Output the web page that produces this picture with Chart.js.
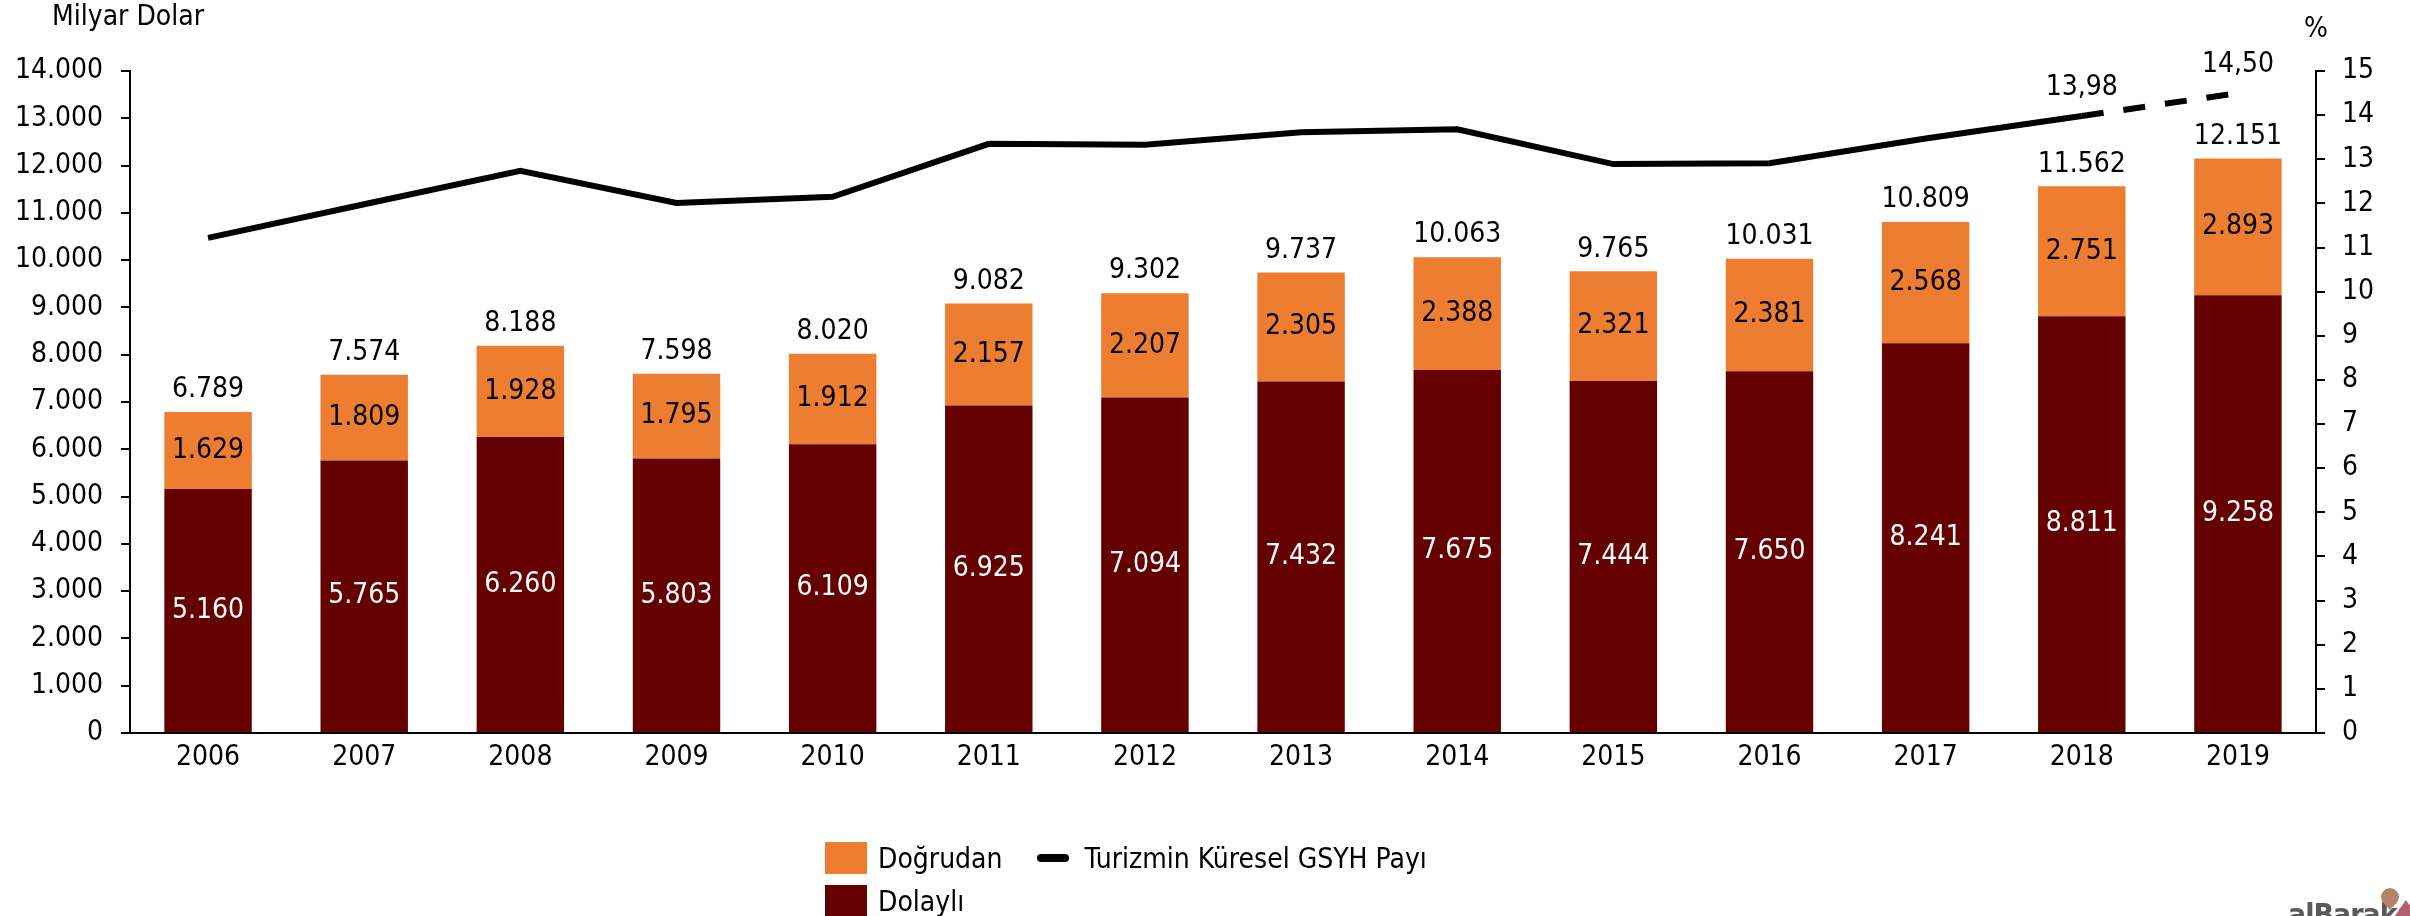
<!DOCTYPE html>
<html>
<head>
<meta charset="utf-8">
<script src="https://cdn.jsdelivr.net/npm/chart.js@4.4.1/dist/chart.umd.min.js"></script>
<style>
  body { margin: 0; background: #fff; }
  #wrap { position: relative; width: 2410px; height: 916px; overflow: hidden; }
  #legend {
    position: absolute; left: 825px; top: 842px;
    display: grid; grid-template-columns: auto auto; column-gap: 34px; row-gap: 11px;
    font-family: "DejaVu Sans Condensed", "DejaVu Sans", sans-serif; font-size: 28px; color: #000;
  }
  .item { display: flex; align-items: center; height: 32px; }
  .box { width: 42px; height: 32px; margin-right: 11px; }
  .ln { width: 32px; height: 8px; border-radius: 4px; background: #000; margin-right: 16px; }
  #logo { position: absolute; left: 2288px; top: 900px; line-height: 30px; font-family: "DejaVu Sans Condensed", "DejaVu Sans", sans-serif;
    font-size: 30px; font-weight: bold; color: #5a5a5a; letter-spacing: -1px; }
  #drop { position: absolute; left: 2381px; top: 888px; width: 18px; height: 18px; border-radius: 50% 50% 50% 0;
    transform: rotate(-45deg); background: #b5836a; }
  #tri { position: absolute; left: 2392px; top: 900px; width: 0; height: 0;
    border-left: 14px solid transparent; border-right: 14px solid transparent; border-bottom: 20px solid #b0606e; }
</style>
</head>
<body>
<div id="wrap">
  <canvas id="chart" width="2410" height="916"></canvas>
  <div id="legend"></div>
  <div id="logo">alBaraka</div>
  <div id="drop"></div>
  <div id="tri"></div>
</div>
<script>
const years = ['2006', '2007', '2008', '2009', '2010', '2011', '2012', '2013', '2014', '2015', '2016', '2017', '2018', '2019'];
const dolayli = [5160, 5765, 6260, 5803, 6109, 6925, 7094, 7432, 7675, 7444, 7650, 8241, 8811, 9258];
const dogrudan = [1629, 1809, 1928, 1795, 1912, 2157, 2207, 2305, 2388, 2321, 2381, 2568, 2751, 2893];
const toplam = [6789, 7574, 8188, 7598, 8020, 9082, 9302, 9737, 10063, 9765, 10031, 10809, 11562, 12151];
const gsyhPayi = [11.22, 11.98, 12.74, 12.01, 12.15, 13.35, 13.33, 13.61, 13.68, 12.89, 12.91, 13.47, 13.98, 14.50];
const labelledPoints = [12, 13]; // only the last two shares carry a label

const FONT = '"DejaVu Sans Condensed", "DejaVu Sans", sans-serif';
const ORANGE = '#ED7D31';
const MAROON = '#640000';

function fmtThousands(v) {
    return String(Math.round(v)).replace(/\B(?=(\d{3})+(?!\d))/g, '.');
}

// draws the value labels and the two axis titles
const labelPlugin = {
    id: 'labels',
    afterDatasetsDraw(chart) {
        const ctx = chart.ctx;
        ctx.save();
        ctx.font = '28px ' + FONT;
        ctx.textAlign = 'center';
        ctx.textBaseline = 'middle';

        const metaDol = chart.getDatasetMeta(1);
        const metaDog = chart.getDatasetMeta(2);
        metaDol.data.forEach((bar, i) => {
            const top = metaDog.data[i];
            ctx.fillStyle = '#fff';
            ctx.fillText(fmtThousands(dolayli[i]), bar.x, (bar.y + bar.base) / 2);
            ctx.fillStyle = '#000';
            ctx.fillText(fmtThousands(dogrudan[i]), top.x, (top.y + top.base) / 2);
            ctx.fillText(fmtThousands(toplam[i]), top.x, top.y - 22);
        });

        const metaLine = chart.getDatasetMeta(0);
        labelledPoints.forEach(i => {
            const p = metaLine.data[i];
            ctx.fillText(gsyhPayi[i].toFixed(2).replace('.', ','), p.x, p.y - 28);
        });

        ctx.textAlign = 'left';
        ctx.fillText('Milyar Dolar', 52, 18);
        ctx.textAlign = 'center';
        ctx.fillText('%', chart.chartArea.right, 30);
        ctx.restore();
    }
};

const ctx = document.getElementById('chart').getContext('2d');
const chart = new Chart(ctx, {
    type: 'bar',
    data: {
        labels: years,
        datasets: [{
            type: 'line',
            label: 'Turizmin Küresel GSYH Payı',
            data: gsyhPayi,
            yAxisID: 'y2',
            borderColor: '#000',
            borderWidth: 6,
            pointRadius: 0,
            tension: 0,
            order: 0,
            segment: {
                borderDash: c => c.p0DataIndex === years.length - 2 ? [22, 20] : undefined
            }
        }, {
            label: 'Dolaylı',
            data: dolayli,
            backgroundColor: MAROON,
            stack: 's',
            order: 1
        }, {
            label: 'Doğrudan',
            data: dogrudan,
            backgroundColor: ORANGE,
            stack: 's',
            order: 1
        }]
    },
    options: {
        responsive: false,
        animation: false,
        layout: { padding: { top: 71, left: 0, right: 0, bottom: 0 } },
        datasets: { bar: { barPercentage: 0.56, categoryPercentage: 1 } },
        plugins: { legend: { display: false }, tooltip: { enabled: false } },
        scales: {
            x: {
                stacked: true,
                grid: { display: false, drawTicks: false },
                border: { display: true, color: '#000', width: 2 },
                ticks: { color: '#000', font: { family: FONT, size: 28 }, padding: 8 },
                afterFit: s => { s.height = 916 - 733; }
            },
            y: {
                position: 'left',
                stacked: true,
                min: 0,
                max: 14000,
                grid: { drawOnChartArea: false, color: '#000', lineWidth: 2, tickLength: 9 },
                border: { display: true, color: '#000', width: 2 },
                ticks: {
                    stepSize: 1000,
                    color: '#000',
                    font: { family: FONT, size: 28 },
                    padding: 18,
                    callback: v => fmtThousands(v)
                },
                afterFit: s => { s.width = 130; }
            },
            y2: {
                position: 'right',
                min: 0,
                max: 15,
                grid: { drawOnChartArea: false, color: '#000', lineWidth: 2, tickLength: 9 },
                border: { display: true, color: '#000', width: 2 },
                ticks: {
                    stepSize: 1,
                    color: '#000',
                    font: { family: FONT, size: 28 },
                    padding: 17
                },
                afterFit: s => { s.width = 2410 - 2316; }
            }
        }
    },
    plugins: [labelPlugin]
});

// legend in the same two-row arrangement as the original
const legendItems = [
    { text: 'Doğrudan', color: ORANGE, kind: 'box' },
    { text: 'Turizmin Küresel GSYH Payı', color: '#000', kind: 'ln' },
    { text: 'Dolaylı', color: MAROON, kind: 'box' }
];
const legendEl = document.getElementById('legend');
legendItems.forEach(it => {
    const div = document.createElement('div');
    div.className = 'item';
    const mark = document.createElement('span');
    mark.className = it.kind;
    mark.style.background = it.color;
    div.appendChild(mark);
    div.appendChild(document.createTextNode(it.text));
    legendEl.appendChild(div);
});
</script>
</body>
</html>
